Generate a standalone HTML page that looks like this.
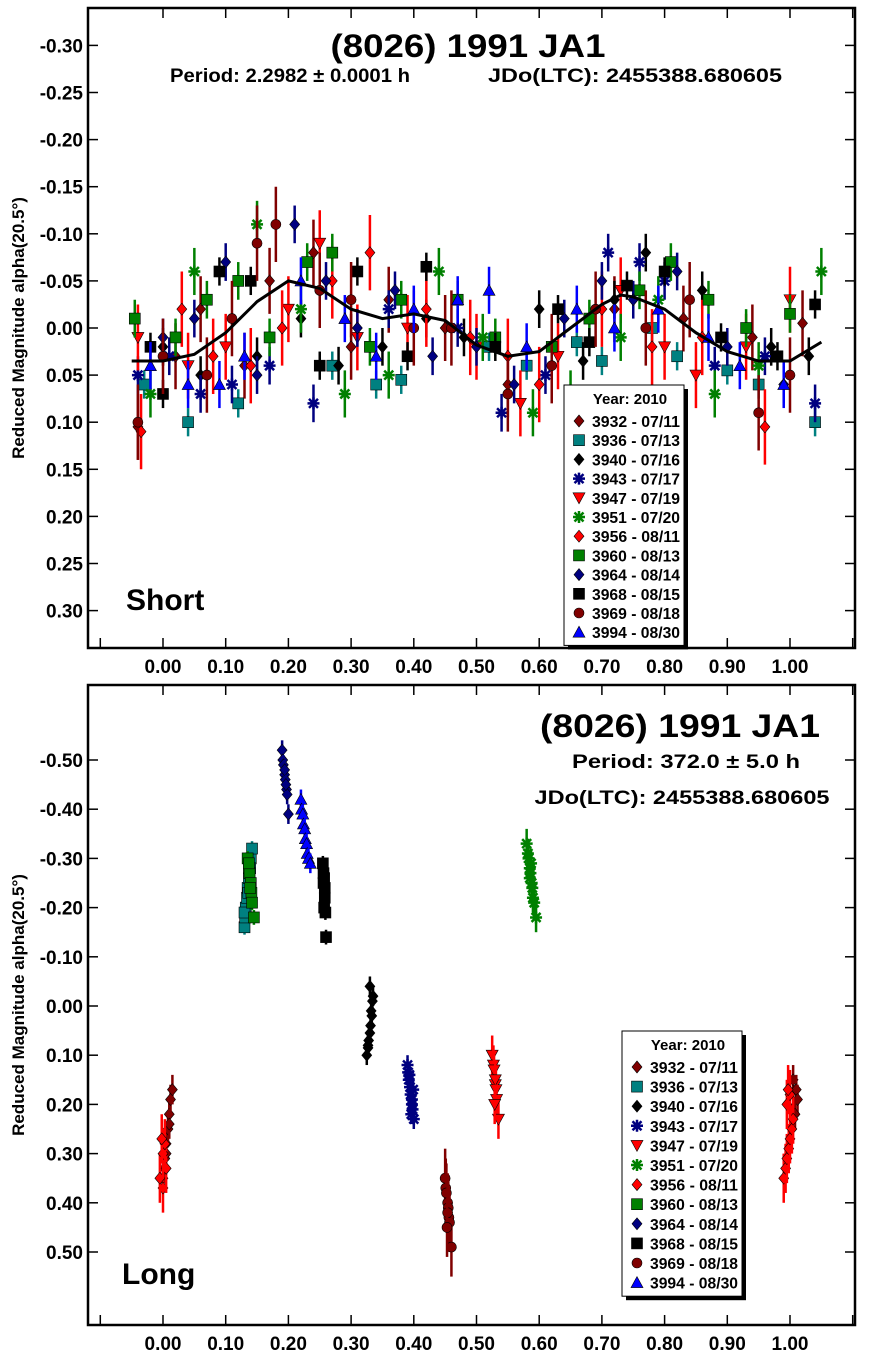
<!DOCTYPE html>
<html><head><meta charset="utf-8"><style>
body{margin:0;background:#fff;}
svg text{font-family:"Liberation Sans",sans-serif;font-weight:bold;}
</style></head><body>
<svg id="c" width="871" height="1359" xmlns="http://www.w3.org/2000/svg"></svg>
<script>
const seriesNames=["3932 - 07/11","3936 - 07/13","3940 - 07/16","3943 - 07/17","3947 - 07/19","3951 - 07/20","3956 - 08/11","3960 - 08/13","3964 - 08/14","3968 - 08/15","3969 - 08/18","3994 - 08/30"];
const seriesColors=["#800000","#008080","#000000","#000080","#ff0000","#008000","#ff0000","#008000","#000080","#000000","#800000","#0000ff"];
const seriesShapes=["diamond","square","diamond","star","tridown","star","diamond","square","diamond","square","circle","triup"];
const topYTicks=[-0.30,-0.25,-0.20,-0.15,-0.10,-0.05,0.00,0.05,0.10,0.15,0.20,0.25,0.30];
const botYTicks=[-0.50,-0.40,-0.30,-0.20,-0.10,0.00,0.10,0.20,0.30,0.40,0.50];
const xTicks=[0.00,0.10,0.20,0.30,0.40,0.50,0.60,0.70,0.80,0.90,1.00];
const fitPhase=[-0.05,0,0.05,0.1,0.15,0.2,0.25,0.3,0.35,0.4,0.45,0.5,0.55,0.6,0.65,0.7,0.73,0.75,0.8,0.85,0.9,0.95,1.0,1.05];
const fitMag=[0.035,0.035,0.028,0.005,-0.028,-0.05,-0.042,-0.02,-0.01,-0.015,-0.008,0.018,0.03,0.025,0.0,-0.025,-0.035,-0.033,-0.02,0.005,0.025,0.035,0.035,0.015];
const topPh=[
[-0.04,0.02,0.06,0.13,0.17,0.24,0.3,0.36,0.45,0.55,0.62,0.72,0.83,0.94,1.02],
[-0.03,0.04,0.12,0.27,0.34,0.38,0.52,0.58,0.66,0.7,0.78,0.82,0.9,0.95,1.04],
[0.0,0.06,0.15,0.22,0.28,0.35,0.42,0.48,0.6,0.67,0.72,0.77,0.86,0.97,1.03],
[-0.04,0.01,0.06,0.11,0.17,0.24,0.36,0.47,0.54,0.61,0.71,0.76,0.8,0.88,0.96,1.04],
[-0.04,0.04,0.1,0.2,0.25,0.31,0.39,0.5,0.57,0.63,0.73,0.8,0.85,0.93,1.0],
[-0.02,0.05,0.15,0.22,0.29,0.36,0.44,0.51,0.59,0.65,0.73,0.79,0.88,0.95,1.05],
[-0.035,0.03,0.08,0.14,0.19,0.27,0.33,0.42,0.49,0.55,0.6,0.7,0.78,0.86,0.96],
[-0.045,0.02,0.07,0.12,0.17,0.23,0.27,0.33,0.38,0.47,0.53,0.62,0.68,0.76,0.81,0.87,0.93,1.0],
[0.0,0.05,0.1,0.15,0.21,0.26,0.31,0.37,0.43,0.5,0.56,0.64,0.7,0.75,0.82,0.9,0.99],
[-0.02,0.0,0.09,0.14,0.25,0.31,0.39,0.42,0.53,0.63,0.68,0.74,0.8,0.89,0.98,1.04],
[-0.04,0.0,0.07,0.11,0.15,0.18,0.25,0.3,0.4,0.46,0.55,0.62,0.69,0.77,0.84,0.95,1.0],
[-0.02,0.04,0.09,0.13,0.22,0.29,0.34,0.4,0.47,0.52,0.58,0.66,0.72,0.79,0.87,0.92,0.99]];
const topMag=[
[0.105,0.03,-0.02,0.04,-0.05,-0.08,0.02,-0.03,0.0,0.06,0.02,-0.02,-0.01,0.01,-0.005],
[0.06,0.1,0.08,0.04,0.06,0.055,0.02,0.04,0.015,0.035,0.0,0.03,0.045,0.06,0.1],
[0.02,0.05,0.03,-0.01,0.04,0.02,-0.01,0.01,-0.02,0.035,-0.03,-0.08,-0.04,0.02,0.03],
[0.05,0.03,0.07,0.06,0.04,0.08,-0.02,0.0,0.09,0.05,-0.08,-0.07,-0.05,0.04,0.03,0.08],
[0.01,0.04,0.02,-0.02,-0.09,0.01,0.0,0.02,0.08,0.03,-0.04,0.02,0.05,0.02,-0.03],
[0.07,-0.06,-0.11,-0.02,0.07,0.05,-0.06,0.01,0.09,0.07,0.01,-0.03,0.07,0.04,-0.06],
[0.11,-0.02,0.03,0.04,0.0,-0.05,-0.08,-0.02,0.01,0.03,0.06,-0.02,0.02,0.01,0.105],
[-0.01,0.01,-0.03,-0.05,0.01,-0.07,-0.08,0.02,-0.03,-0.03,0.01,0.02,-0.01,-0.04,-0.07,-0.03,0.0,-0.015],
[0.01,-0.01,-0.07,0.05,-0.11,-0.05,0.0,-0.04,0.03,0.02,0.06,-0.01,-0.05,-0.03,-0.06,0.02,0.06],
[0.02,0.07,-0.06,-0.05,0.04,-0.06,0.03,-0.065,0.02,-0.02,0.015,-0.045,-0.06,0.01,0.03,-0.025],
[0.1,0.03,0.05,-0.01,-0.09,-0.11,-0.04,-0.03,0.0,0.0,0.07,0.04,-0.02,0.0,-0.03,0.09,0.05],
[0.04,0.06,0.06,0.03,-0.05,-0.01,0.03,-0.02,-0.03,-0.04,0.02,-0.02,0.0,-0.02,0.01,0.04,0.06]];
const topErr=[0.035,0.015,0.02,0.02,0.035,0.025,0.04,0.02,0.02,0.015,0.04,0.025];
const botPh=[
[0.0,0.003,0.005,0.008,0.01,0.012,0.015,0.01,0.005,0.002,1.005,1.01,1.012,1.008],
[0.13,0.131,0.132,0.134,0.135,0.137,0.138,0.14,0.142,0.13,0.136,0.139],
[0.325,0.327,0.328,0.33,0.331,0.332,0.334,0.335,0.33,0.327,0.333],
[0.39,0.391,0.392,0.394,0.395,0.397,0.398,0.4,0.393,0.397,0.396,0.399],
[0.525,0.527,0.528,0.53,0.531,0.532,0.535,0.53,0.529],
[0.58,0.582,0.583,0.585,0.586,0.588,0.589,0.59,0.592,0.595,0.585,0.587],
[0.0,-0.005,0.005,0.0,0.003,-0.002,0.99,0.993,0.995,0.998,1.0,1.003,1.005,0.995,1.0,0.997],
[0.135,0.137,0.138,0.14,0.141,0.142,0.145,0.137,0.139],
[0.19,0.191,0.192,0.194,0.195,0.197,0.198,0.2,0.194,0.196],
[0.255,0.256,0.257,0.258,0.258,0.259,0.26,0.256,0.257],
[0.45,0.451,0.452,0.454,0.455,0.456,0.457,0.46,0.454,0.453],
[0.22,0.221,0.223,0.224,0.226,0.227,0.229,0.23,0.232,0.235]];
const botMag=[
[0.35,0.31,0.28,0.25,0.22,0.19,0.17,0.24,0.3,0.33,0.15,0.17,0.19,0.22],
[-0.16,-0.18,-0.2,-0.22,-0.24,-0.26,-0.27,-0.3,-0.32,-0.19,-0.23,-0.28],
[0.1,0.085,0.07,0.055,0.04,0.01,-0.01,-0.02,-0.04,0.08,0.02],
[0.12,0.135,0.15,0.165,0.18,0.2,0.21,0.23,0.14,0.19,0.22,0.17],
[0.1,0.12,0.13,0.16,0.17,0.19,0.23,0.15,0.2],
[-0.33,-0.31,-0.3,-0.28,-0.27,-0.25,-0.24,-0.22,-0.21,-0.18,-0.26,-0.29],
[0.37,0.35,0.33,0.3,0.28,0.27,0.35,0.33,0.31,0.29,0.27,0.25,0.23,0.2,0.18,0.17],
[-0.3,-0.28,-0.27,-0.25,-0.23,-0.21,-0.18,-0.29,-0.24],
[-0.52,-0.5,-0.49,-0.47,-0.46,-0.44,-0.43,-0.39,-0.48,-0.45],
[-0.29,-0.27,-0.26,-0.24,-0.22,-0.19,-0.14,-0.25,-0.2],
[0.35,0.37,0.38,0.4,0.41,0.43,0.44,0.49,0.42,0.45],
[-0.42,-0.4,-0.39,-0.37,-0.36,-0.34,-0.33,-0.31,-0.3,-0.29]];
const botErr=[0.03,0.015,0.02,0.02,0.04,0.03,0.05,0.015,0.02,0.015,0.06,0.02];

const NS="http://www.w3.org/2000/svg";
const svg=document.getElementById('c');
function el(t,a,p){const e=document.createElementNS(NS,t);for(const k in a)e.setAttribute(k,a[k]);(p||svg).appendChild(e);return e;}
const L=88,R=855;
function xs(p){return 163+p*627;}
function marker(g,shape,x,y,c){
 const s=6;let e;
 if(shape=="diamond")e=el('polygon',{points:`${x},${y-s} ${x+s-1},${y} ${x},${y+s} ${x-s+1},${y}`,fill:c,stroke:'#000','stroke-width':0.6},g);
 else if(shape=="square")e=el('rect',{x:x-5.5,y:y-5.5,width:11,height:11,fill:c,stroke:'#000','stroke-width':0.6},g);
 else if(shape=="circle")e=el('circle',{cx:x,cy:y,r:5,fill:c,stroke:'#000','stroke-width':0.6},g);
 else if(shape=="triup")e=el('polygon',{points:`${x},${y-6} ${x+6},${y+5} ${x-6},${y+5}`,fill:c,stroke:'#000','stroke-width':0.6},g);
 else if(shape=="tridown")e=el('polygon',{points:`${x},${y+6} ${x+6},${y-5} ${x-6},${y-5}`,fill:c,stroke:'#000','stroke-width':0.6},g);
 else {e=el('path',{d:`M${x-6} ${y}H${x+6}M${x} ${y-6}V${y+6}M${x-4.5} ${y-4.5}L${x+4.5} ${y+4.5}M${x-4.5} ${y+4.5}L${x+4.5} ${y-4.5}`,stroke:c,'stroke-width':2.5,fill:'none'},g);}
 return e;
}
function panel(name,top,bot,yticks,ys,ph,mag,err,fit){
 const g=el('g',{});
 
 
 const fr=el('rect',{x:L,y:top,width:R-L,height:bot-top,fill:'#fff',stroke:'#000','stroke-width':2.5},g);
 
 
 yticks.forEach(v=>{const y=ys(v);
  el('line',{x1:L,x2:L+10,y1:y,y2:y,stroke:'#000','stroke-width':1.5},g);
  el('line',{x1:R-10,x2:R,y1:y,y2:y,stroke:'#000','stroke-width':1.5},g);
  const t=el('text',{x:83,y:y+7,'text-anchor':'end','font-size':19},g);t.textContent=v.toFixed(2);
  
  });
 xTicks.forEach(v=>{const x=xs(v);
  el('line',{x1:x,x2:x,y1:bot-10,y2:bot,stroke:'#000','stroke-width':1.5},g);
  el('line',{x1:x,x2:x,y1:top,y2:top+10,stroke:'#000','stroke-width':1.5},g);
  const t=el('text',{x:x,y:bot+25,'text-anchor':'middle','font-size':19},g);t.textContent=v.toFixed(2);
  
  });
 [1.10].forEach(v=>{const x=xs(v);el('line',{x1:x,x2:x,y1:bot-10,y2:bot,stroke:'#000','stroke-width':1.5},g);el('line',{x1:x,x2:x,y1:top,y2:top+10,stroke:'#000','stroke-width':1.5},g);});
 el('line',{x1:xs(-0.1),x2:xs(-0.1),y1:bot-10,y2:bot,stroke:'#000','stroke-width':1.5},g);
 const yt=el('text',{transform:`translate(24,${(top+bot)/2}) rotate(-90)`,'text-anchor':'middle','font-size':17},g);
 yt.textContent='Reduced Magnitude alpha(20.5°)';
 
 
 for(let s=0;s<ph.length;s++){
  const sg=el('g',{},g);
  
  
  for(let i=0;i<ph[s].length;i++){
   const x=xs(ph[s][i]),y=ys(mag[s][i]);
   el('line',{x1:x,x2:x,y1:ys(mag[s][i]-err[s]),y2:ys(mag[s][i]+err[s]),stroke:seriesColors[s],'stroke-width':2.5},sg);
   const m=marker(sg,seriesShapes[s],x,y,seriesColors[s]);
   
   
  }
 }
 if(fit){
  const d=fitPhase.map((p,i)=>(i?'L':'M')+xs(p).toFixed(1)+' '+ys(fitMag[i]).toFixed(1)).join('');
  const c=el('path',{d:d,stroke:'#000','stroke-width':3,fill:'none'},g);
  
  
 }
 return g;
}
function legend(x,y,step){
 const g=el('g',{});
 
 
 const w=120,h=24+step*12+6;
 el('rect',{x:x+4,y:y+4,width:w,height:h,fill:'#000'},g);
 el('rect',{x:x,y:y,width:w,height:h,fill:'#fff',stroke:'#000','stroke-width':1},g);
 const t=el('text',{x:x+66,y:y+19,'text-anchor':'middle','font-size':15},g);t.textContent='Year: 2010';
 seriesNames.forEach((n,i)=>{
  const yy=y+36+i*step;
  const e=el('g',{},g);
  
  
  marker(e,seriesShapes[i],x+15,yy,seriesColors[i]);
  const tt=el('text',{x:x+28,y:yy+6,'font-size':15.5,textLength:88,lengthAdjust:'spacingAndGlyphs'},e);tt.textContent=n;
 });
}
function txt(s,x,y,size,anchor,name,len){const a={x:x,y:y,'font-size':size,'text-anchor':anchor||'start'};
 if(len){a.textLength=len;a.lengthAdjust='spacingAndGlyphs';}
 const t=el('text',a);t.textContent=s;
 
 }

panel('short-period-plot',8,648,topYTicks,v=>328+v*942,topPh,topMag,topErr,true);
legend(564,385,19.2);
txt('(8026) 1991 JA1',468,57,32,'middle','chart-title',275);
txt('Period: 2.2982 ± 0.0001 h',290,82,19,'middle','period-label',240);
txt('JDo(LTC): 2455388.680605',635,82,19,'middle','epoch-label',294);
txt('Short',126,610,30,'start','panel-label');

panel('long-period-plot',685,1325,botYTicks,v=>1006+v*492,botPh,botMag,botErr,false);
legend(622,1031,19.6);
txt('(8026) 1991 JA1',680,737,32,'middle','chart-title-long',280);
txt('Period: 372.0 ± 5.0 h',686,768,19,'middle','period-label-long',228);
txt('JDo(LTC): 2455388.680605',682,804,19,'middle','epoch-label-long',295);
txt('Long',122,1284,30,'start','panel-label-long');
</script>
</body></html>
